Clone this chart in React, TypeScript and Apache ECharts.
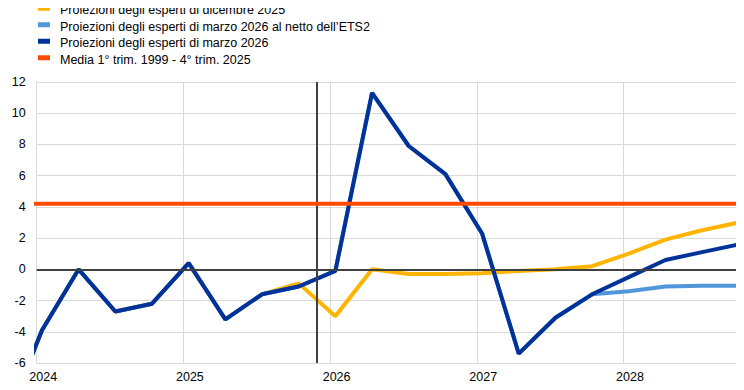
import React, { useEffect, useRef } from "react";
import * as echarts from "echarts";

const quarters = [
  "2023Q4",
  "2024Q1", "2024Q2", "2024Q3", "2024Q4",
  "2025Q1", "2025Q2", "2025Q3", "2025Q4",
  "2026Q1", "2026Q2", "2026Q3", "2026Q4",
  "2027Q1", "2027Q2", "2027Q3", "2027Q4",
  "2028Q1", "2028Q2", "2028Q3", "2028Q4",
];

const yearLabels = [2024, 2025, 2026, 2027, 2028];

const dec2025 = [
  -9.8,
  -3.9, 0.0, -2.7, -2.2,
  0.4, -3.2, -1.6, -0.9,
  -3.0, 0.0, -0.3, -0.3,
  -0.25, -0.1, 0.0, 0.2,
  1.0, 1.9, 2.5, 3.0,
];

const mar2026ExEts2 = [
  -9.8,
  -3.9, 0.0, -2.7, -2.2,
  0.4, -3.2, -1.6, -1.1,
  -0.1, 11.3, 7.9, 6.1,
  2.3, -5.4, -3.1, -1.6,
  -1.4, -1.1, -1.05, -1.05,
];

const mar2026 = [
  -9.8,
  -3.9, 0.0, -2.7, -2.2,
  0.4, -3.2, -1.6, -1.1,
  -0.1, 11.3, 7.9, 6.1,
  2.3, -5.4, -3.1, -1.6,
  -0.5, 0.6, 1.1, 1.6,
];

const longRunAverage = 4.2;
const cutoffBetween = ["2025Q4", "2026Q1"];

const seriesNames = [
  "Proiezioni degli esperti di dicembre 2025",
  "Proiezioni degli esperti di marzo 2026 al netto dell\u2019ETS2",
  "Proiezioni degli esperti di marzo 2026",
  "Media 1\u00b0 trim. 1999 - 4\u00b0 trim. 2025",
];

const colors = ["#FFB400", "#4F96DB", "#003299", "#FF4B00"];

// quarterly observations are dated mid-January/April/July/October
function qx(label: string): number {
  const y = parseInt(label.slice(0, 4), 10);
  const q = parseInt(label.slice(5), 10);
  return y + (q - 1) * 0.25 + 0.036;
}

const FONT = "'Liberation Sans', Arial, sans-serif";

export default function App() {
  const ref = useRef<HTMLDivElement>(null);

  useEffect(() => {
    if (!ref.current) return;
    const chart = echarts.init(ref.current, undefined, { renderer: "svg" });
    const xs = quarters.map(qx);
    const pts = (vals: number[]) => vals.map((v, i) => [xs[i], v]);
    const cutoff = (qx(cutoffBetween[0]) + qx(cutoffBetween[1])) / 2;
    const lineSeries = (idx: number, data: number[][], z: number) => ({
      name: seriesNames[idx],
      type: "line",
      data,
      symbol: "none",
      showSymbol: false,
      clip: true,
      z,
      lineStyle: { color: colors[idx], width: 4 },
      itemStyle: { color: colors[idx] },
      emphasis: { disabled: true },
    });

    const legends = seriesNames.map((name, i) => ({
      orient: "vertical",
      left: 38,
      top: 3.75 + 16.5 * i,
      padding: 0,
      icon: "rect",
      itemWidth: 12,
      itemHeight: 5,
      selectedMode: false,
      data: [name],
      formatter: (n: string) => `{t|${n}}`,
      textStyle: {
        fontFamily: FONT,
        fontSize: 12.5,
        color: "#000",
        rich: {
          t: {
            fontFamily: FONT,
            fontSize: 12.5,
            color: "#000",
            padding: [4, 0, 0, 5],
          },
        },
      },
    }));

    chart.setOption({
      animation: false,
      textStyle: { fontFamily: FONT },
      grid: {
        left: 36.7,
        right: 2,
        top: 82,
        bottom: 27,
        containLabel: false,
        outerBoundsMode: "none",
      },
      legend: legends,
      xAxis: {
        type: "value",
        min: yearLabels[0],
        max: 2028.808,
        interval: 1,
        axisLine: { show: true, lineStyle: { color: "#d9d9d9", width: 1 } },
        axisTick: { show: false },
        splitLine: { show: true, lineStyle: { color: "#d9d9d9", width: 1 } },
        axisLabel: {
          fontFamily: FONT,
          fontSize: 12.5,
          color: "#000",
          margin: 7,
          padding: [0, 0, 0, 13],
          formatter: (v: number) =>
            yearLabels.indexOf(Math.round(v)) >= 0 ? String(Math.round(v)) : "",
        },
      },
      yAxis: {
        type: "value",
        min: -6,
        max: 12,
        interval: 2,
        axisLine: { show: true, lineStyle: { color: "#d9d9d9", width: 1 } },
        axisTick: { show: false },
        splitLine: { show: true, lineStyle: { color: "#d9d9d9", width: 1 } },
        axisLabel: {
          fontFamily: FONT,
          fontSize: 12.5,
          color: "#000",
          margin: 11,
        },
      },
      series: [
        {
          type: "line",
          data: [],
          z: 1,
          silent: true,
          markLine: {
            silent: true,
            symbol: "none",
            label: { show: false },
            emphasis: { disabled: true },
            lineStyle: { color: "#404040", width: 2, type: "solid" },
            data: [{ yAxis: 0 }, { xAxis: cutoff }],
          },
        },
        lineSeries(0, pts(dec2025), 2),
        lineSeries(1, pts(mar2026ExEts2), 3),
        lineSeries(2, pts(mar2026), 4),
        lineSeries(
          3,
          [
            [xs[0], longRunAverage],
            [xs[xs.length - 1], longRunAverage],
          ],
          5
        ),
      ],
    });
    return () => chart.dispose();
  }, []);

  return <div ref={ref} style={{ width: 744, height: 390, margin: -8 }} />;
}
